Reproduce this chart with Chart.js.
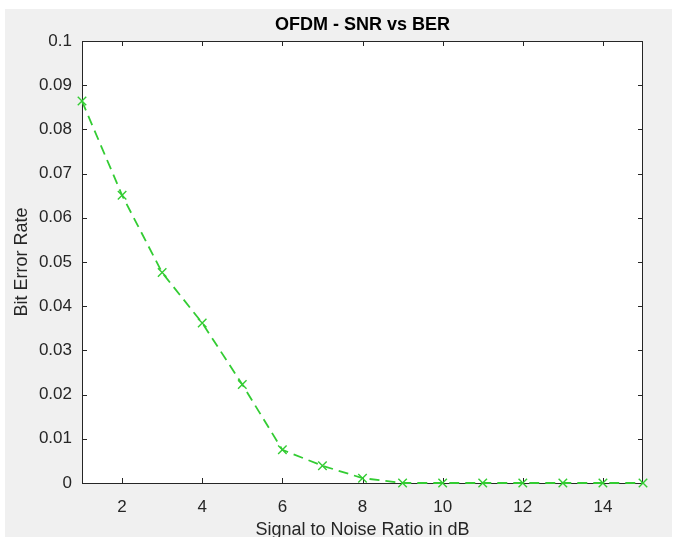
<!DOCTYPE html>
<html>
<head>
<meta charset="utf-8">
<script src="https://cdn.jsdelivr.net/npm/chart.js@4"></script>
<style>
  body { margin: 0; background: #fff; overflow: hidden; }
  #wrap { position: relative; width: 674px; height: 537px; overflow: hidden; }
  #panel { position: absolute; left: 5px; top: 9px; width: 667px; height: 528px; background: #f0f0f0; }
  #myChart { position: absolute; left: 0; top: 0; }
</style>
</head>
<body>
<div id="wrap">
  <div id="panel"></div>
  <canvas id="myChart" width="674" height="541"></canvas>
</div>
<script>
// data
const snr = [1, 2, 3, 4, 5, 6, 7, 8, 9, 10, 11, 12, 13, 14, 15];
const ber = [0.0864, 0.0651, 0.0476, 0.0362, 0.0223, 0.0075, 0.0039, 0.0011, 0, 0, 0, 0, 0, 0, 0];
const xTicks = [2, 4, 6, 8, 10, 12, 14];
const yTicks = [0, 0.01, 0.02, 0.03, 0.04, 0.05, 0.06, 0.07, 0.08, 0.09, 0.1];
const yTickLabels = ["0", "0.01", "0.02", "0.03", "0.04", "0.05", "0.06", "0.07", "0.08", "0.09", "0.1"];

const ctx = document.getElementById('myChart');
const tickCol = '#262626';
const fam = 'Liberation Sans, Arial, sans-serif';

// matlab style box with inward ticks on all four sides
const boxPlugin = {
  id: 'box',
  beforeDatasetsDraw(chart) {
    const c = chart.ctx;
    const a = chart.chartArea;
    const xs = chart.scales.x;
    const ys = chart.scales.y;
    const len = 5;
    c.save();
    c.fillStyle = '#fff';
    c.fillRect(a.left, a.top, a.right - a.left, a.bottom - a.top);
    c.strokeStyle = tickCol;
    c.lineWidth = 1;
    c.strokeRect(a.left + 0.5, a.top + 0.5, a.right - a.left - 1, a.bottom - a.top);
    c.beginPath();
    xTicks.forEach(function (v) {
      const px = Math.round(xs.getPixelForValue(v)) + 0.5;
      c.moveTo(px, a.bottom); c.lineTo(px, a.bottom - len);
      c.moveTo(px, a.top); c.lineTo(px, a.top + len);
    });
    yTicks.forEach(function (v) {
      const py = Math.round(ys.getPixelForValue(v)) + 0.5;
      c.moveTo(a.left, py); c.lineTo(a.left + len, py);
      c.moveTo(a.right, py); c.lineTo(a.right - len, py);
    });
    c.stroke();
    c.restore();
  }
};

new Chart(ctx, {
  type: 'line',
  data: {
    datasets: [{
      label: 'BER',
      data: snr.map(function (s, i) { return { x: s, y: ber[i] }; }),
      borderColor: '#33cc33',
      backgroundColor: '#33cc33',
      borderWidth: 1.8,
      borderDash: [10, 6],
      pointStyle: 'crossRot',
      pointRadius: 6,
      pointBorderWidth: 1.4,
      pointBorderColor: '#33cc33',
      fill: false,
      tension: 0,
      clip: false
    }]
  },
  options: {
    responsive: false,
    animation: false,
    layout: { padding: { left: 5, right: 31, top: 0, bottom: 0 } },
    plugins: {
      legend: { display: false },
      tooltip: { enabled: false },
      title: {
        display: true,
        fullSize: false,
        text: 'OFDM - SNR vs BER',
        color: '#000',
        font: { family: fam, size: 18, weight: 'bold' },
        padding: { top: 14, bottom: 5.4 }
      }
    },
    scales: {
      x: {
        type: 'linear',
        min: 1,
        max: 15,
        grid: { display: false, drawTicks: false },
        border: { display: false },
        afterBuildTicks: function (scale) {
          scale.ticks = xTicks.map(function (v) { return { value: v }; });
        },
        afterFit: function (scale) { scale.height = 58; },
        ticks: {
          color: tickCol,
          padding: 14,
          maxRotation: 0,
          font: { family: fam, size: 17 }
        },
        title: {
          display: true,
          text: 'Signal to Noise Ratio in dB',
          color: tickCol,
          padding: { top: 0, bottom: 0 },
          font: { family: fam, size: 18 }
        }
      },
      y: {
        type: 'linear',
        min: 0,
        max: 0.1,
        grid: { display: false, drawTicks: false },
        border: { display: false },
        afterBuildTicks: function (scale) {
          scale.ticks = yTicks.map(function (v) { return { value: v }; });
        },
        afterFit: function (scale) { scale.width = 77; },
        ticks: {
          color: tickCol,
          padding: 10,
          font: { family: fam, size: 17 },
          callback: function (v, i) { return yTickLabels[i]; }
        },
        title: {
          display: true,
          text: 'Bit Error Rate',
          color: tickCol,
          padding: { top: 6, bottom: 0 },
          font: { family: fam, size: 18 }
        }
      }
    }
  },
  plugins: [boxPlugin]
});
</script>
</body>
</html>
